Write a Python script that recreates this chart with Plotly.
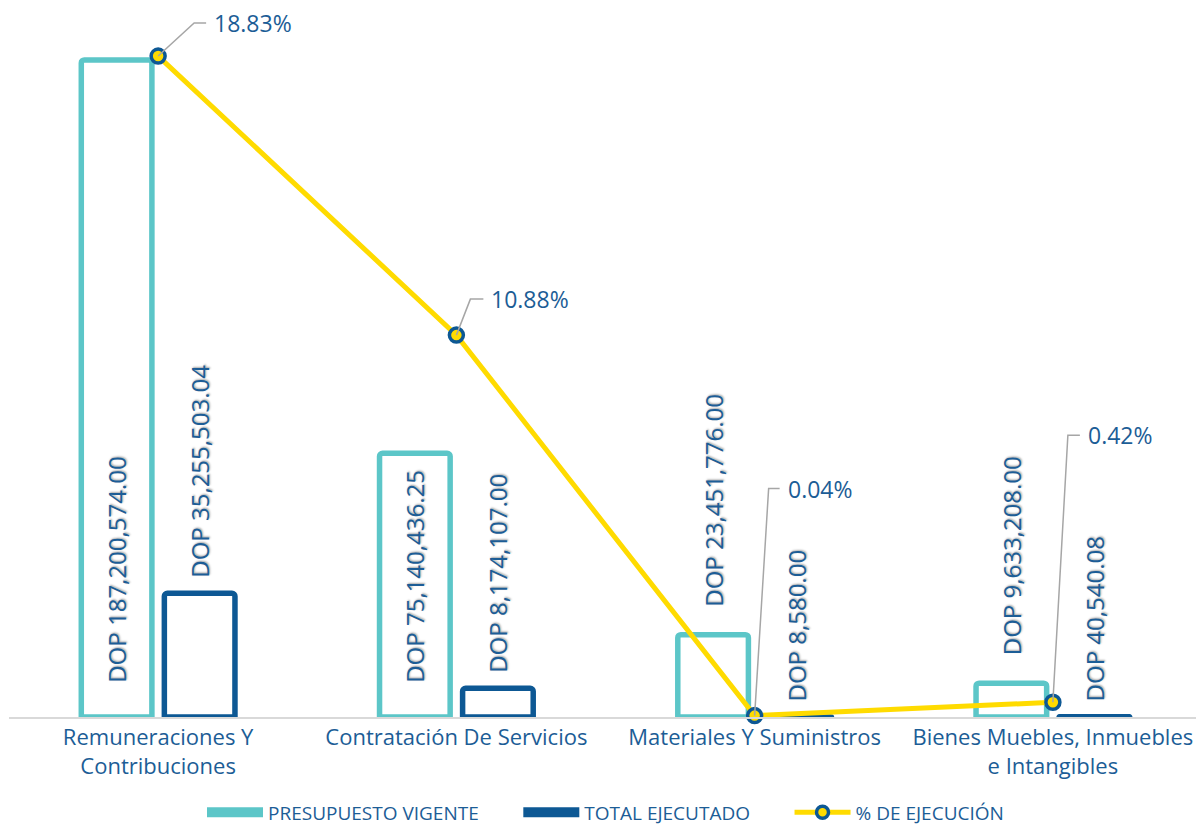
import plotly.graph_objects as go

categories = ["Remuneraciones Y<br>Contribuciones", "Contratación De Servicios",
              "Materiales Y Suministros", "Bienes Muebles, Inmuebles<br>e Intangibles"]
presupuesto = [187200574.00, 75140436.25, 23451776.00, 9633208.00]
ejecutado = [35255503.04, 8174107.00, 8580.00, 40540.08]
pct_ejecucion = [18.83, 10.88, 0.04, 0.42]
legend_names = ["PRESUPUESTO VIGENTE", "TOTAL EJECUTADO", "% DE EJECUCIÓN"]

TEAL = "#5CC6C8"
NAVY = "#0D5894"
TXT = "#1C5D96"
YEL = "#FFDB00"
FONT = "Open Sans"
shadow = "1px 1px 2px rgba(0,0,0,0.35)"
NB = "\u00a0"

teal_pos = ["inside", "inside", "outside", "outside"]
teal_text = [(NB * 5 if p == "inside" else NB * 4) + f"DOP {v:,.2f}" for v, p in zip(presupuesto, teal_pos)]
navy_text = [NB * 2 + f"DOP {v:,.2f}" for v in ejecutado]

fig = go.Figure()
fig.add_trace(go.Bar(
    x=categories, y=presupuesto, name=legend_names[0], showlegend=False,
    marker=dict(color="white", line=dict(color=TEAL, width=5.5), cornerradius=3),
    text=teal_text, textposition=teal_pos,
    insidetextanchor="start", textangle=-90, cliponaxis=False,
    textfont=dict(family=FONT, size=24, color=TXT, shadow=shadow),
))
fig.add_trace(go.Bar(
    x=categories, y=ejecutado, name=legend_names[1], showlegend=False,
    marker=dict(color="white", line=dict(color=NAVY, width=5.5), cornerradius=3),
    text=navy_text, textposition="outside", textangle=-90, cliponaxis=False,
    textfont=dict(family=FONT, size=24, color=TXT, shadow=shadow),
))
fig.add_trace(go.Scatter(
    x=categories, y=pct_ejecucion, name=legend_names[2], yaxis="y2",
    mode="lines+markers", cliponaxis=False, showlegend=False,
    line=dict(color=YEL, width=5),
    marker=dict(size=14, color=YEL, line=dict(color=NAVY, width=3.5)),
))

# legend entries
pad = NB * 7
fig.add_trace(go.Scatter(x=[None], y=[None], mode="lines", name=legend_names[0] + pad,
                         line=dict(color=TEAL, width=11)))
fig.add_trace(go.Scatter(x=[None], y=[None], mode="lines", name=legend_names[1] + pad,
                         line=dict(color=NAVY, width=11)))
fig.add_trace(go.Scatter(x=[None], y=[None], mode="lines+markers", name=legend_names[2],
                         line=dict(color=YEL, width=5),
                         marker=dict(size=12, color=YEL, line=dict(color=NAVY, width=3.5))))

# leader-line offsets (pixels) for the percentage callouts
leaders = [(36, 33, 48), (14, 36, 27), (14, 227, 25), (15, 267, 27)]
for cat, p, (dx, dy, hx) in zip(categories, pct_ejecucion, leaders):
    fig.add_shape(type="path", xref="x", yref="y2", xsizemode="pixel", ysizemode="pixel",
                  xanchor=cat, yanchor=p, path=f"M0,0 L{dx},{dy} L{hx},{dy}",
                  line=dict(color="#A6A6A6", width=1.5), layer="above")
    fig.add_annotation(x=cat, y=p, xref="x", yref="y2", text=f"{p:.2f}%", showarrow=False,
                       xanchor="left", yanchor="middle", xshift=hx + 6, yshift=dy,
                       font=dict(family=FONT, size=23, color=TXT))

fig.update_layout(
    width=1196, height=821,
    margin=dict(l=1, r=2, t=7, b=112, autoexpand=False),
    paper_bgcolor="white", plot_bgcolor="white",
    barmode="group", bargap=0.443, bargroupgap=0.15,
    font=dict(family=FONT, color=TXT),
    uniformtext=dict(minsize=24, mode="show"),
    xaxis=dict(showgrid=False, showline=True, linecolor="#D9D9D9", linewidth=2, automargin=False,
               ticks="", tickfont=dict(family=FONT, size=22, color=TXT)),
    yaxis=dict(range=[0, 2e8], visible=False),
    yaxis2=dict(range=[0, 20], overlaying="y", visible=False),
    legend=dict(orientation="h", x=0.5, xanchor="center", y=-0.136, yanchor="middle",
                font=dict(family=FONT, size=19, color=TXT), itemwidth=56),
    showlegend=True,
)

fig.write_html("out.html")
